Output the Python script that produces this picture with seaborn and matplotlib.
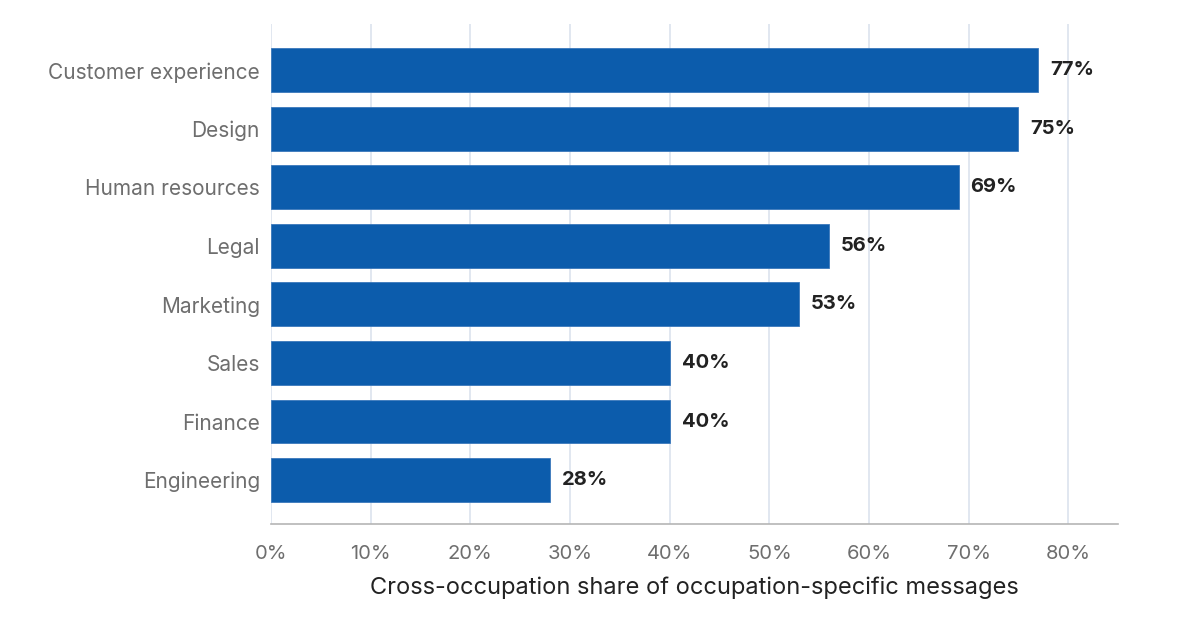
import matplotlib
matplotlib.use("Agg")
import matplotlib.pyplot as plt
import seaborn as sns
import pandas as pd
from matplotlib.ticker import PercentFormatter

occupations = ["Customer experience", "Design", "Human resources", "Legal",
               "Marketing", "Sales", "Finance", "Engineering"]
shares = [77, 75, 69, 56, 53, 40, 40, 28]
x_ticks = [0, 10, 20, 30, 40, 50, 60, 70, 80]

BAR_COLOR = "#0c5cac"
GRID_COLOR = "#dce3ee"
TICK_COLOR = "#6e6e6e"
TEXT_COLOR = "#222222"

sns.set_theme(style="white")
plt.rcParams["font.family"] = ["Inter", "DejaVu Sans"]

df = pd.DataFrame({"occupation": occupations, "share": shares})

fig = plt.figure(figsize=(11.96, 6.22), dpi=100)
ax = fig.add_axes([0.2266, 0.1576, 0.7082, 0.8038])

sns.barplot(data=df, x="share", y="occupation", color=BAR_COLOR,
            saturation=1, width=0.75, ax=ax, zorder=3)

for patch in ax.patches:
    patch.set_edgecolor("#3a78bb")
    patch.set_linewidth(0.6)

for i, v in enumerate(shares):
    ax.text(v + 1.2, i, f"{v}%", va="center", ha="left",
            fontsize=14.5, fontweight="bold", color=TEXT_COLOR, zorder=4)

ax.set_xlim(0, 85)
ax.set_ylim(len(occupations) - 0.25, -0.79)
ax.set_xticks(x_ticks)
ax.xaxis.set_major_formatter(PercentFormatter(decimals=0))
ax.grid(axis="x", color=GRID_COLOR, linewidth=1.2, zorder=0)
ax.grid(axis="y", visible=False)

for side in ["top", "right", "left"]:
    ax.spines[side].set_visible(False)
ax.spines["bottom"].set_color("#b5b5b5")
ax.spines["bottom"].set_linewidth(1.2)

ax.tick_params(axis="x", colors=TICK_COLOR, labelsize=14.5, length=6,
               width=1.2, direction="out", pad=9)
ax.tick_params(axis="x", color="#b5b5b5")
ax.tick_params(axis="y", colors=TICK_COLOR, labelsize=15, length=0, pad=8)

ax.set_ylabel("")
ax.set_xlabel("Cross-occupation share of occupation-specific messages",
              fontsize=17, color=TEXT_COLOR, labelpad=10)

fig.savefig("out.png", dpi=100)
